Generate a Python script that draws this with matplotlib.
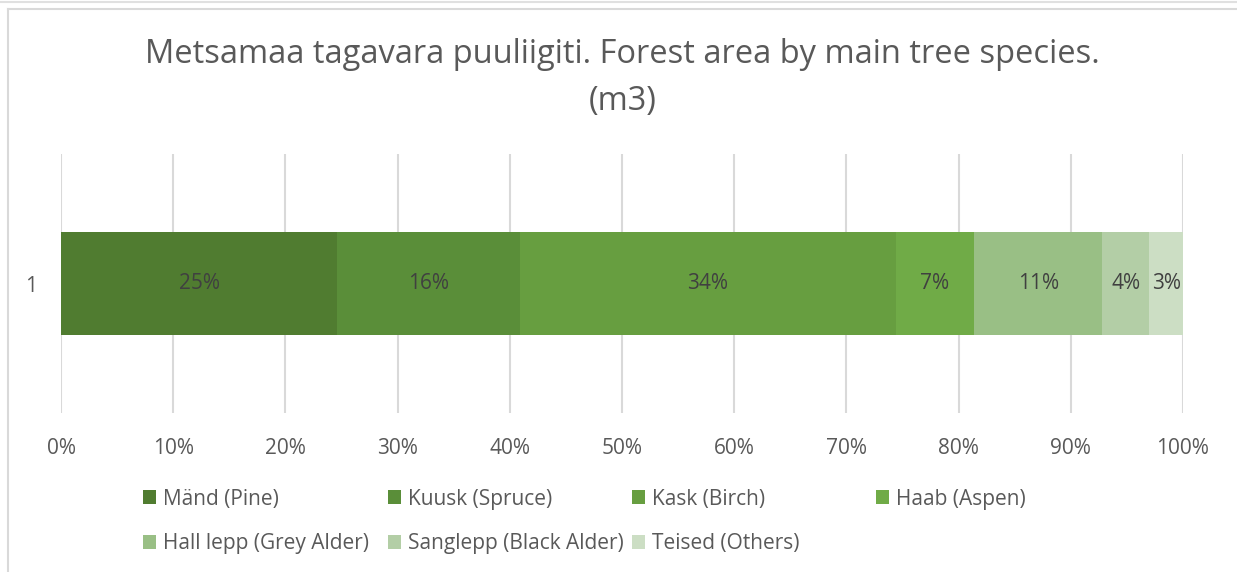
import matplotlib
matplotlib.use("Agg")
import matplotlib.pyplot as plt
from matplotlib.lines import Line2D
import numpy as np

# ---- data ----
categories = ["1"]
species = ["Mänd (Pine)", "Kuusk (Spruce)", "Kask (Birch)", "Haab (Aspen)",
           "Hall lepp (Grey Alder)", "Sanglepp (Black Alder)", "Teised (Others)"]
shares = [24.6, 16.3, 33.5, 7.0, 11.4, 4.2, 3.0]
colors = ["#507C30", "#5A8E39", "#679E40", "#70AB47", "#99BF85", "#B3CEA6", "#CCDEC4"]
xticks = [0, 10, 20, 30, 40, 50, 60, 70, 80, 90, 100]
title = "Metsamaa tagavara puuliigiti. Forest area by main tree species.\n(m3)"

plt.rcParams['font.family'] = ['Open Sans', 'DejaVu Sans']

W, H = 1237, 572
fig = plt.figure(figsize=(W / 100, H / 100), dpi=100)
ax = fig.add_axes([61 / W, 1 - 413 / H, (1183 - 61) / W, (413 - 154) / H])

left = 0.0
bars = []
for name, val, col in zip(species, shares, colors):
    b = ax.barh(categories, [val], left=[left], height=0.4, color=col, label=name, zorder=3)
    bars.append(b)
    ax.text(left + val / 2, 0, f"{val:.0f}%", ha="center", va="center",
            fontsize=15, color="#404040", zorder=4)
    left += val

ax.set_xlim(0, 100)
ax.set_ylim(-0.5, 0.5)
ax.set_xticks(xticks)
ax.set_xticklabels([f"{t}%" for t in xticks])
ax.tick_params(axis="x", length=0, pad=18, labelsize=15, labelcolor="#595959")
ax.tick_params(axis="y", length=0, pad=17, labelsize=15, labelcolor="#595959")
ax.grid(axis="x", color="#D9D9D9", linewidth=1.5, zorder=0)
for s in ax.spines.values():
    s.set_visible(False)

fig.text(0.5 * (149 + 1096) / W, 1 - 78 / H, title, ha="center", va="center",
         fontsize=23.5, color="#595959", linespacing=1.55)

# legend: equal width columns, row-major like the original
col_x = [143, 388, 632, 876]
row_y = [499, 544]
for i, (b, name) in enumerate(zip(bars, species)):
    r, c = divmod(i, 4)
    fig.legend([b], [name], loc="center left",
               bbox_to_anchor=(col_x[c] / W, 1 - row_y[r] / H),
               frameon=False, borderpad=0, borderaxespad=0,
               handlelength=0.62, handleheight=0.62, handletextpad=0.33,
               fontsize=15, labelcolor="#595959")

# chart frame lines
fig.add_artist(Line2D([0, 1], [1 - 2 / H, 1 - 2 / H], color="#E0E0E0", linewidth=1.5))
fig.add_artist(Line2D([8 / W, 1], [1 - 9 / H, 1 - 9 / H], color="#D9D9D9", linewidth=1.5))
fig.add_artist(Line2D([8 / W, 8 / W], [1 - 9 / H, 0], color="#D9D9D9", linewidth=1.5))

fig.savefig("out.png", dpi=100)
